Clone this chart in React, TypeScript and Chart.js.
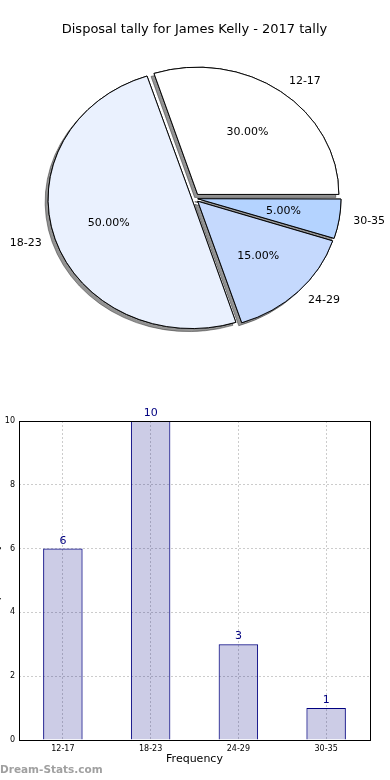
import React, { useEffect, useRef } from 'react';
import { Chart, registerables } from 'chart.js';
Chart.register(...registerables);

const TITLE = 'Disposal tally for James Kelly - 2017 tally';
const categories = ['12-17', '18-23', '24-29', '30-35'];
const tallies = [6, 10, 3, 1];
const pieColors = ['#ffffff', '#eaf1fe', '#c5d9fd', '#b4d3ff'];
const yTicks = [0, 2, 4, 6, 8, 10];
const X_TITLE = 'Frequency';
const Y_TITLE = 'Disposal Tally';
const WATERMARK = 'Dream-Stats.com';

const FONT = '"DejaVu Sans", sans-serif';
const SX = 1.11; // horizontal stretch of the pie (ellipse)
const EXPLODE = 5; // px
const PIE_R = 127;

const total = tallies.reduce((a, b) => a + b, 0);
// matplotlib draws counter-clockwise from east; Chart.js clockwise -> reverse order
const pieLabels = [...categories].reverse();
const pieValues = [...tallies].reverse();
const pieBg = [...pieColors].reverse();
const pieOffsets = pieValues.map((v) => {
  const circ = (v / total) * Math.PI * 2;
  const fix = 1 - Math.sin(Math.min(Math.PI, circ));
  return (4 * EXPLODE) / (1 + fix);
});

const piePlugin = {
  id: 'pieStretch',
  beforeDatasetsDraw(chart: any) {
    const ctx = chart.ctx;
    const meta = chart.getDatasetMeta(0);
    const el0 = meta.data[0];
    const x = el0.x, y = el0.y;
    ctx.save();
    ctx.translate(x, y);
    ctx.scale(SX, 1);
    ctx.translate(-x, -y);
    // shadow pass (all shadows beneath all wedges)
    ctx.save();
    ctx.shadowColor = 'rgba(40,40,40,0.5)';
    ctx.shadowOffsetX = -3;
    ctx.shadowOffsetY = 3;
    ctx.shadowBlur = 0;
    meta.data.forEach((el: any) => el.draw(ctx, chart.chartArea));
    ctx.restore();
  },
  afterDatasetsDraw(chart: any) {
    const ctx = chart.ctx;
    ctx.restore();
    const meta = chart.getDatasetMeta(0);
    const data = chart.data.datasets[0].data as number[];
    const labels = chart.data.labels as string[];
    const sum = data.reduce((a, b) => a + b, 0);
    ctx.save();
    ctx.fillStyle = '#000';
    ctx.font = `11px ${FONT}`;
    meta.data.forEach((el: any, i: number) => {
      const p = el.getProps(['x', 'y', 'startAngle', 'endAngle', 'outerRadius', 'circumference']);
      const off = (el.options.offset || 0) / 4;
      const h = (p.startAngle + p.endAngle) / 2;
      const fix = 1 - Math.sin(Math.min(Math.PI, p.circumference));
      const t = off * (1 + fix);
      const R = p.outerRadius;
      const pos = (r: number) => [p.x + SX * Math.cos(h) * (t + r), p.y + Math.sin(h) * (t + r)];
      const [lx, ly] = pos(1.1 * R);
      ctx.textBaseline = 'middle';
      ctx.textAlign = Math.cos(h) >= 0 ? 'left' : 'right';
      ctx.fillText(labels[i], lx, ly);
      const [px, py] = pos(0.6 * R);
      ctx.textAlign = 'center';
      ctx.fillText(((data[i] / sum) * 100).toFixed(2) + '%', px, py);
    });
    ctx.restore();
  },
};

const barPlugin = {
  id: 'barExtras',
  afterDatasetsDraw(chart: any) {
    const ctx = chart.ctx;
    const meta = chart.getDatasetMeta(0);
    const data = chart.data.datasets[0].data as number[];
    ctx.save();
    ctx.fillStyle = '#000080';
    ctx.font = `11px ${FONT}`;
    ctx.textAlign = 'center';
    ctx.textBaseline = 'alphabetic';
    meta.data.forEach((el: any, i: number) => {
      ctx.fillText(String(data[i]), el.x, el.y - 5);
    });
    const a = chart.chartArea;
    ctx.strokeStyle = '#000';
    ctx.lineWidth = 1;
    ctx.strokeRect(Math.round(a.left) + 0.5, Math.round(a.top) + 0.5, Math.round(a.right - a.left), Math.round(a.bottom - a.top));
    ctx.restore();
  },
};

export default function App() {
  const pieRef = useRef<HTMLCanvasElement>(null);
  const barRef = useRef<HTMLCanvasElement>(null);

  useEffect(() => {
    const pie = new Chart(pieRef.current as HTMLCanvasElement, {
      type: 'pie',
      data: {
        labels: pieLabels,
        datasets: [
          {
            data: pieValues,
            backgroundColor: pieBg,
            borderColor: '#000',
            borderWidth: 0.9,
            offset: pieOffsets,
            radius: PIE_R,
          } as any,
        ],
      },
      options: {
        responsive: false,
        animation: false,
        rotation: 90,
        layout: { padding: { top: 0, left: 0, right: 1, bottom: 41 } },
        plugins: {
          legend: { display: false },
          tooltip: { enabled: false },
          title: {
            display: true,
            text: TITLE,
            color: '#000',
            font: { family: FONT, size: 13, weight: 'normal' },
            padding: { top: 22, bottom: 10 },
          },
        },
      } as any,
      plugins: [piePlugin],
    });

    const bar = new Chart(barRef.current as HTMLCanvasElement, {
      type: 'bar',
      data: {
        labels: categories,
        datasets: [
          {
            data: tallies,
            backgroundColor: 'rgba(0,0,128,0.2)',
            borderColor: '#000080',
            borderWidth: 1,
            barPercentage: 0.45,
            categoryPercentage: 1,
          },
        ],
      },
      options: {
        responsive: false,
        animation: false,
        layout: { padding: { top: 31, right: 20, left: 0, bottom: 0 } },
        plugins: { legend: { display: false }, tooltip: { enabled: false } },
        scales: {
          x: {
            offset: true,
            grid: { offset: false, color: '#cccccc', lineWidth: 1, drawTicks: false },
            border: { display: false, dash: [2, 2] },
            ticks: { color: '#000', font: { family: FONT, size: 8 }, padding: 4, maxRotation: 0 },
            title: {
              display: true,
              text: X_TITLE,
              color: '#000',
              font: { family: FONT, size: 11 },
              padding: { top: 0, bottom: 14 },
            },
            afterFit: (s: any) => {
              s.height = 40;
            },
          },
          y: {
            min: yTicks[0],
            max: yTicks[yTicks.length - 1],
            grid: { color: '#cccccc', lineWidth: 1, drawTicks: false },
            border: { display: false, dash: [2, 2] },
            ticks: {
              stepSize: yTicks[1] - yTicks[0],
              color: '#000',
              font: { family: FONT, size: 8 },
              padding: 4,
            },
            title: {
              display: true,
              text: Y_TITLE,
              color: '#000',
              font: { family: FONT, size: 11 },
              padding: { top: 2, bottom: 0 },
            },
            afterFit: (s: any) => {
              s.width = 31;
            },
          },
        },
      } as any,
      plugins: [barPlugin],
    });

    return () => {
      pie.destroy();
      bar.destroy();
    };
  }, []);

  return (
    <div
      style={{
        position: 'absolute',
        left: 0,
        top: 0,
        width: 390,
        height: 780,
        overflow: 'hidden',
        background: '#fff',
      }}
    >
      <canvas ref={pieRef} width={390} height={390} style={{ position: 'absolute', left: 0, top: 0 }} />
      <canvas ref={barRef} width={402} height={390} style={{ position: 'absolute', left: -12, top: 390 }} />
      <div
        style={{
          position: 'absolute',
          left: 0,
          top: 763,
          fontFamily: FONT,
          fontSize: 10.5,
          fontWeight: 'bold',
          lineHeight: '12px',
          color: '#a0a0a0',
          whiteSpace: 'nowrap',
        }}
      >
        {WATERMARK}
      </div>
    </div>
  );
}
